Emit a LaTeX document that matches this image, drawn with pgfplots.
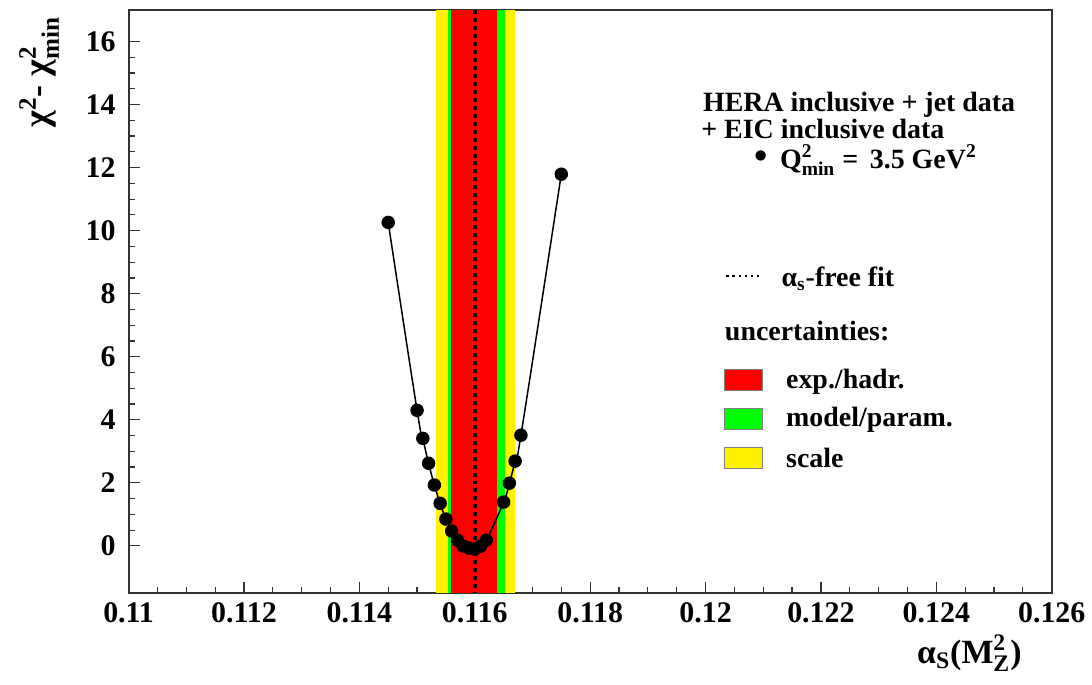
\documentclass[border=0pt]{standalone}
\usepackage{fontspec}
\setmainfont{Liberation Serif}
\usepackage{amsmath}
\usepackage{pgfplots}
\pgfplotsset{compat=1.18}

\begin{document}
\begin{tikzpicture}
\begin{axis}[
    width=463pt, height=292.5pt, scale only axis,
    xmin=0.11, xmax=0.126, ymin=-1.5, ymax=17,
    xtick={0.11,0.112,0.114,0.116,0.118,0.12,0.122,0.124,0.126},
    xticklabels={0.11,0.112,0.114,0.116,0.118,0.12,0.122,0.124,0.126},
    scaled x ticks=false,
    ytick={0,2,...,16},
    minor x tick num=3, minor y tick num=3,
    tick align=inside, xtick pos=bottom, ytick pos=left,
    major tick length=5.5pt, minor tick length=3pt,
    axis line style={line width=1pt, black!80},
    every tick/.style={black!80, line width=0.6pt},
    /pgf/number format/assume math mode=true,
    ticklabel style={font=\bfseries\fontsize{15}{15}\selectfont},
    yticklabel style={xshift=-3pt},
    xticklabel style={yshift=-1pt},
    xlabel={\bfseries α$_{\text{S}}$(M$_{\text{Z}}^{\text{2}}$)},
    xlabel style={font=\fontsize{17}{17}\selectfont, at={(axis description cs:0.975,-0.06)}, anchor=north east},
    ylabel={\bfseries χ$^{\text{2}}$- χ$^{\text{2}}_{\text{min}}$},
    ylabel style={font=\fontsize{18}{18}\selectfont, at={(axis description cs:-0.097,1.0)}, anchor=east},
]

% uncertainty bands
\addplot[fill=yellow, draw=none] coordinates {(0.11532,-1.5) (0.11670,-1.5) (0.11670,17) (0.11532,17)} -- cycle;
\addplot[fill=green, draw=none] coordinates {(0.11554,-1.5) (0.11652,-1.5) (0.11652,17) (0.11554,17)} -- cycle;
\addplot[fill=red, draw=none] coordinates {(0.11559,-1.5) (0.11639,-1.5) (0.11639,17) (0.11559,17)} -- cycle;

% alpha_s free fit
\addplot[black, line width=2pt, dash pattern=on 2pt off 2pt] coordinates {(0.1160,17) (0.1160,-1.5)};

% chi2 scan
\addplot[black, line width=0.75pt, smooth, tension=0.75, mark=*, mark size=3pt, mark options={fill=black}] coordinates {
    (0.1145, 10.26)
    (0.1150, 4.30)
    (0.1151, 3.41)
    (0.1152, 2.62)
    (0.1153, 1.93)
    (0.1154, 1.35)
    (0.1155, 0.85)
    (0.1156, 0.47)
    (0.1157, 0.18)
    (0.1158, -0.01)
    (0.1159, -0.07)
    (0.1160, -0.10)
    (0.1161, -0.01)
    (0.1162, 0.18)
    (0.1165, 1.39)
    (0.1166, 1.99)
    (0.1167, 2.69)
    (0.1168, 3.51)
    (0.1175, 11.79)
};

% legend
\begin{scope}[every node/.style={font=\bfseries\fontsize{14}{16}\selectfont, inner sep=0pt}]
\node[anchor=base west] at (axis cs:0.11995,13.79) {HERA inclusive + jet data};
\node[anchor=base west] at (axis cs:0.11992,12.93) {+ EIC inclusive data};
\node[anchor=base west] at (axis cs:0.12084,11.98) {{\fontsize{19}{19}\selectfont •}\;\,Q$^{\text{2}}_{\text{min}}$ =\, 3.5 GeV$^{\text{2}}$};
\draw[black, line width=1.1pt, dash pattern=on 1.1pt off 2pt] (axis cs:0.12036,8.55) -- (axis cs:0.12099,8.55);
\node[anchor=base west] at (axis cs:0.12131,8.24) {α$_{\text{s}}$-free fit};
\node[anchor=base west] at (axis cs:0.12033,6.52) {uncertainties:};
\draw[fill=red, draw=gray] (axis cs:0.12033,5.61) rectangle (axis cs:0.12099,4.93);
\draw[fill=green, draw=gray] (axis cs:0.12033,4.37) rectangle (axis cs:0.12099,3.70);
\draw[fill=yellow, draw=gray] (axis cs:0.12033,3.13) rectangle (axis cs:0.12099,2.46);
\node[anchor=base west] at (axis cs:0.12139,5.00) {exp./hadr.};
\node[anchor=base west] at (axis cs:0.12139,3.80) {model/param.};
\node[anchor=base west] at (axis cs:0.12139,2.50) {scale};
\end{scope}
\end{axis}
\path ([shift={(-64.5pt,-46pt)}]current axis.south west) rectangle ([shift={(18.5pt,5pt)}]current axis.north east);
\end{tikzpicture}
\end{document}
